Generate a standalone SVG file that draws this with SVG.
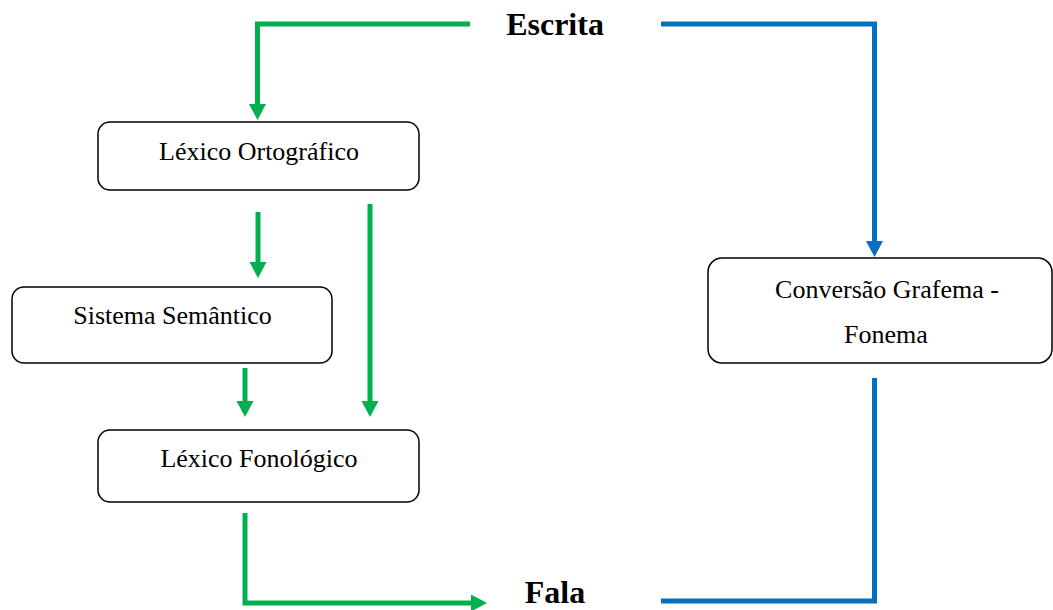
<svg xmlns="http://www.w3.org/2000/svg" width="1053" height="610" viewBox="0 0 1053 610">
<style>
.box{fill:#fff;stroke:#000;stroke-width:1.5}
.lbl{font-family:"Liberation Serif","Times New Roman",serif;font-size:26px;fill:#000;text-anchor:middle}
.big{font-family:"Liberation Serif","Times New Roman",serif;font-size:32px;font-weight:bold;fill:#000;text-anchor:middle}
.g{fill:none;stroke:#00B050;stroke-width:5}
.b{fill:none;stroke:#0070C0;stroke-width:5}
</style>
<defs>
<marker id="ag" markerUnits="userSpaceOnUse" markerWidth="17" markerHeight="18" refX="2" refY="8.5" orient="auto"><path d="M0,0 L16,8.5 L0,17 z" fill="#00B050"/></marker>
<marker id="ab" markerUnits="userSpaceOnUse" markerWidth="17" markerHeight="18" refX="2" refY="8.5" orient="auto"><path d="M0,0 L16,8.5 L0,17 z" fill="#0070C0"/></marker>
</defs>
<g id="connectors">
<path class="g" d="M470,24 H257.5 V106" marker-end="url(#ag)"/>
<path class="g" d="M258,212 V264" marker-end="url(#ag)"/>
<path class="g" d="M370,204 V403" marker-end="url(#ag)"/>
<path class="g" d="M245,368 V403" marker-end="url(#ag)"/>
<path class="g" d="M245,513 V603 H473" marker-end="url(#ag)"/>
<path class="b" d="M661,24 H874.5 V243" marker-end="url(#ab)"/>
<path class="b" d="M874.5,378 V601 H661"/>
</g>
<g id="escrita"><text class="big" x="555" y="35">Escrita</text></g>
<g id="fala"><text class="big" x="555" y="603">Fala</text></g>
<g id="lexico-ortografico">
<rect class="box" x="98" y="122" width="321" height="68" rx="12"/>
<text class="lbl" x="259" y="160">Léxico Ortográfico</text>
</g>
<g id="sistema-semantico">
<rect class="box" x="12" y="287" width="320" height="76" rx="12"/>
<text class="lbl" x="172.5" y="324">Sistema Semântico</text>
</g>
<g id="lexico-fonologico">
<rect class="box" x="98" y="430" width="321" height="72" rx="12"/>
<text class="lbl" x="259" y="467">Léxico Fonológico</text>
</g>
<g id="conversao">
<rect class="box" x="708" y="258" width="344" height="105" rx="14"/>
<text class="lbl" x="887" y="298">Conversão Grafema -</text>
<text class="lbl" x="886" y="343">Fonema</text>
</g>
</svg>
